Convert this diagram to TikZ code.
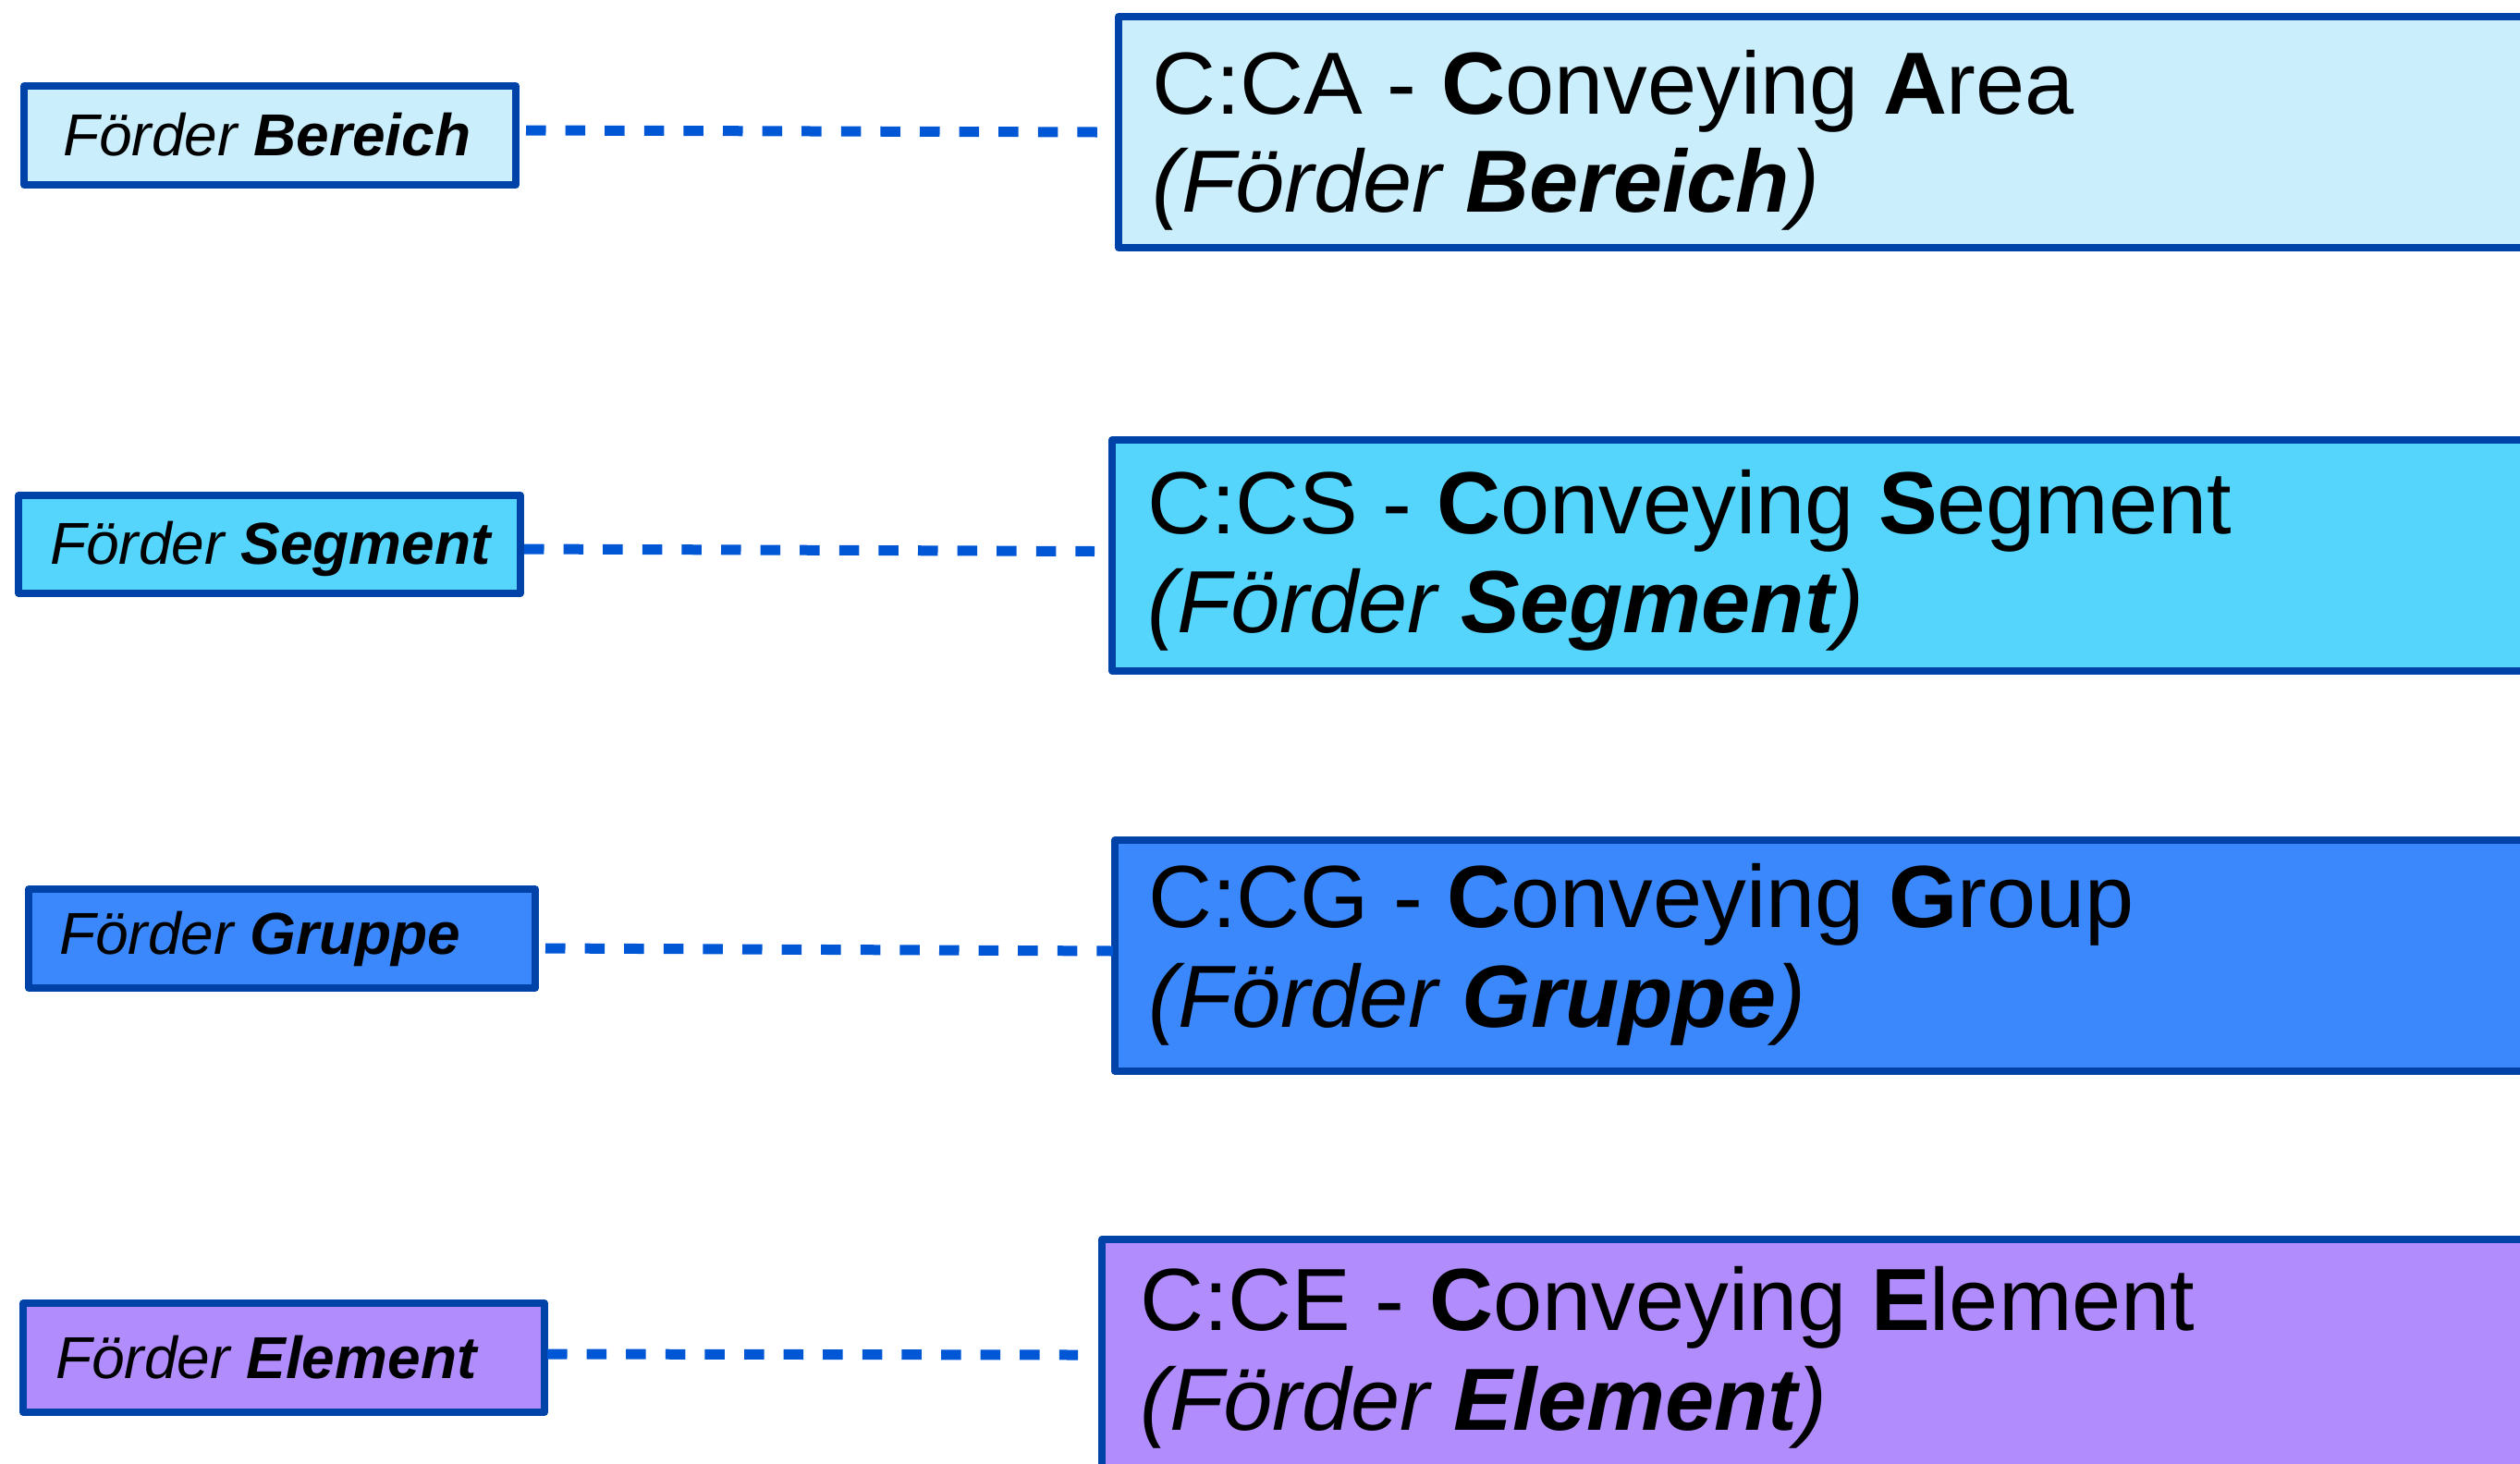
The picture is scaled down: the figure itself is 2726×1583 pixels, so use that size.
\documentclass[tikz,border=0pt]{standalone}
\usepackage{fontspec}
\setmainfont{Liberation Sans}
\definecolor{edgeblue}{HTML}{0043A8}
\definecolor{dashblue}{HTML}{0057D6}
\definecolor{areafill}{HTML}{CBEEFC}
\definecolor{segfill}{HTML}{55D4FC}
\definecolor{groupfill}{HTML}{3A88FC}
\definecolor{elemfill}{HTML}{B08CFC}
\begin{document}
\begin{tikzpicture}[x=1pt,y=-1pt,
  smallbox/.style={draw=edgeblue, line width=7.5pt, line join=round, inner sep=0pt, outer sep=0pt, anchor=north west},
  bigbox/.style={draw=edgeblue, line width=8pt, line join=round, inner sep=0pt, outer sep=0pt, anchor=north west, minimum width=1600pt, minimum height=250pt},
  smalltext/.style={font=\fontsize{64}{72}\selectfont\itshape, anchor=base west, inner sep=0pt},
  bigtext/.style={font=\fontsize{95.5}{106}\selectfont, anchor=base west, inner sep=0pt},
  link/.style={draw=dashblue, line width=11pt, dash pattern=on 21.5pt off 21.1pt}]
\useasboundingbox (0,0) rectangle (2726,1583);

% level boxes on the left
\node[smallbox, fill=areafill,  minimum width=532pt, minimum height=107pt] (s1) at (26,93) {};
\node[smallbox, fill=segfill,   minimum width=543pt, minimum height=106pt] (s2) at (20,536) {};
\node[smallbox, fill=groupfill, minimum width=548pt, minimum height=107pt] (s3) at (31,962) {};
\node[smallbox, fill=elemfill,  minimum width=564pt, minimum height=118pt] (s4) at (25,1410) {};

\node[smalltext] (s1t) at (68,168)  {Förder \textbf{Bereich}};
\node[smalltext] (s2t) at (54,610)  {Förder \textbf{Segment}};
\node[smalltext] (s3t) at (64,1032) {Förder \textbf{Gruppe}};
\node[smalltext] (s4t) at (60,1491) {Förder \textbf{Element}};

% description boxes on the right (running past the page edge)
\node[bigbox, fill=areafill]  (b1) at (1210,18) {};
\node[bigbox, fill=segfill]   (b2) at (1203,476) {};
\node[bigbox, fill=groupfill] (b3) at (1206,909) {};
\node[bigbox, fill=elemfill]  (b4) at (1192,1341) {};

\node[bigtext] (b1a) at (1246,123)  {C:CA - \textbf{C}onveying \textbf{A}rea};
\node[bigtext] (b1b) at (1246,229)  {\textit{(Förder \textbf{Bereich})}};
\node[bigtext] (b2a) at (1241,577)  {C:CS - \textbf{C}onveying \textbf{S}egment};
\node[bigtext] (b2b) at (1241,684)  {\textit{(Förder \textbf{Segment})}};
\node[bigtext] (b3a) at (1242,1003) {C:CG - \textbf{C}onveying \textbf{G}roup};
\node[bigtext] (b3b) at (1242,1111) {\textit{(Förder \textbf{Gruppe})}};
\node[bigtext] (b4a) at (1233,1439) {C:CE - \textbf{C}onveying \textbf{E}lement};
\node[bigtext] (b4b) at (1233,1547) {\textit{(Förder \textbf{Element})}};

% dotted links
\draw[link] ([xshift=11pt,yshift=5.5pt]s1.east) -- ([xshift=-23pt]b1.west);
\draw[link] ([xshift=4pt,yshift=-5pt]s2.east) -- ([xshift=-19pt,yshift=4.5pt]b2.west);
\draw[link] ([xshift=11pt,yshift=-10.5pt]s3.east) -- ([xshift=-2pt,yshift=5pt]b3.west);
\draw[link] ([xshift=3pt,yshift=4pt]s4.east) -- ([xshift=-26pt]b4.west);
\end{tikzpicture}
\end{document}
